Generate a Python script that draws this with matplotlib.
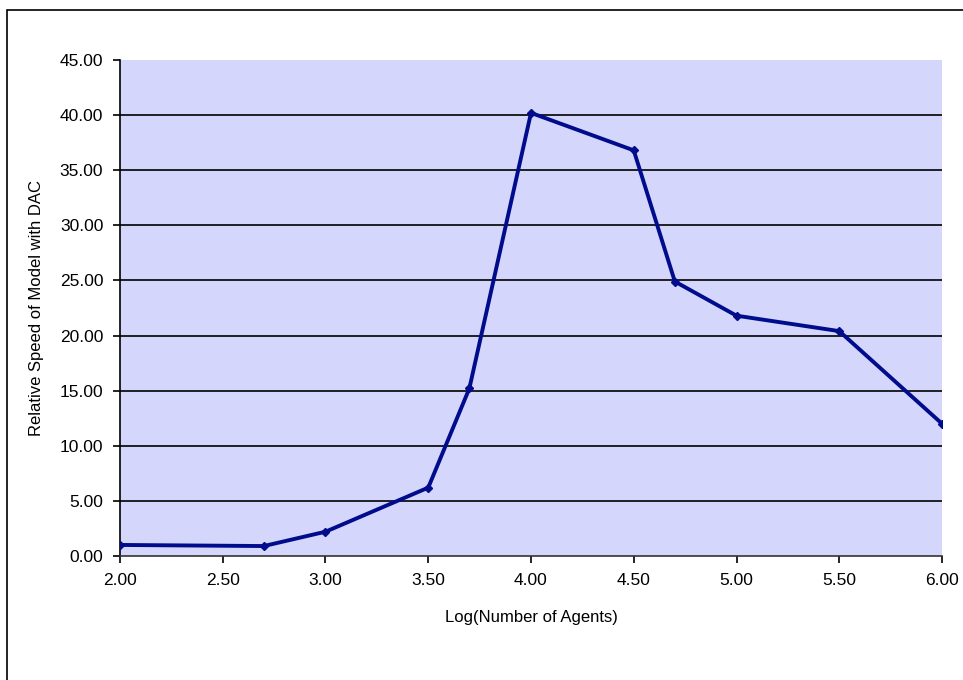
import matplotlib

matplotlib.use("Agg")
import matplotlib.pyplot as plt
from matplotlib.patches import Rectangle
from matplotlib.ticker import FormatStrFormatter, MultipleLocator

# log10 of number of agents and relative speed with DAC
log_agents = [2.00, 2.70, 3.00, 3.50, 3.70, 4.00, 4.50, 4.70, 5.00, 5.50, 6.00]
rel_speed = [1.0, 0.9, 2.2, 6.2, 15.2, 40.2, 36.8, 24.9, 21.8, 20.4, 12.0]

plt.rcParams["font.family"] = ["Liberation Sans", "DejaVu Sans"]

fig = plt.figure(figsize=(9.63, 6.80), dpi=100)
ax = fig.add_axes([0.1246, 0.1824, 0.8536, 0.7294])

# chart border (only top/left fall inside the image)
fig.patches.append(Rectangle((7 / 963, -0.05), 1.2, 1 - 10 / 680 + 0.05,
                             transform=fig.transFigure, fill=False,
                             edgecolor="black", linewidth=1.2))

ax.set_facecolor("#D4D6FC")
for y in range(5, 45, 5):
    ax.axhline(y, color="black", linewidth=1.2, zorder=1)

ax.plot(log_agents, rel_speed, color="#000C8C", linewidth=2.8,
        marker="D", markersize=4.5, zorder=3)

ax.set_xlim(2.0, 6.0)
ax.set_ylim(0, 45)
ax.xaxis.set_major_locator(MultipleLocator(0.5))
ax.yaxis.set_major_locator(MultipleLocator(5))
ax.xaxis.set_major_formatter(FormatStrFormatter("%.2f"))
ax.yaxis.set_major_formatter(FormatStrFormatter("%.2f"))

for side in ("top", "right"):
    ax.spines[side].set_visible(False)
ax.spines["left"].set_linewidth(1.2)
ax.spines["bottom"].set_linewidth(1.2)
ax.spines["bottom"].set_color("#333333")
ax.tick_params(direction="out", length=5, width=1.2, labelsize=12.5,
               colors="black", pad=7)

ax.set_xlabel("Log(Number of Agents)", fontsize=12, labelpad=16)
ax.set_ylabel("Relative Speed of Model with DAC", fontsize=12, labelpad=11)

fig.savefig("out.png", dpi=100)
